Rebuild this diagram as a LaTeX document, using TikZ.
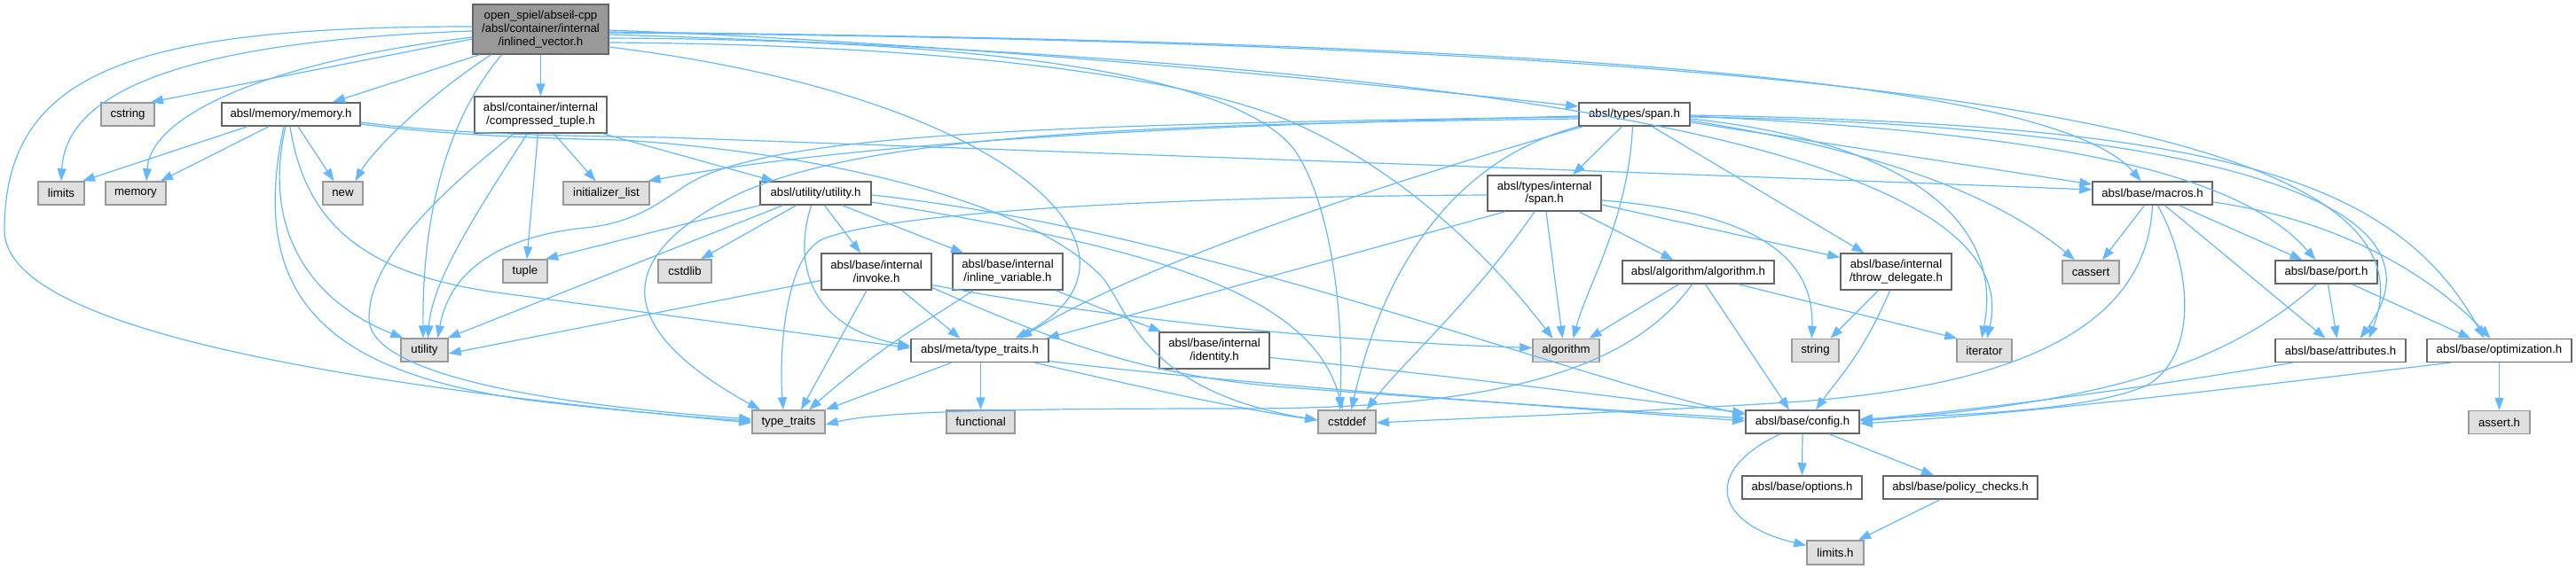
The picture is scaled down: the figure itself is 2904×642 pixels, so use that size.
\documentclass[tikz,border=0pt]{standalone}
\usepackage{fontspec}
\setmainfont{Liberation Sans}
\usetikzlibrary{arrows.meta}
\definecolor{edgec}{HTML}{63B8FF}
\definecolor{nodeb}{HTML}{666666}
\definecolor{sysb}{HTML}{999999}
\definecolor{sysf}{HTML}{E0E0E0}
\definecolor{mainf}{HTML}{999999}
\begin{document}
\begin{tikzpicture}[x=1pt,y=-1pt,
  nd/.style={draw=nodeb, fill=white, line width=1.5pt, inner sep=0pt, align=center, minimum height=26pt,
    font=\fontsize{13.2pt}{14.7pt}\selectfont},
  sys/.style={nd, draw=sysb, fill=sysf},
  mn/.style={nd, fill=mainf},
  edg/.style={draw=edgec, line width=1.2pt, -{Triangle[length=14pt,width=10pt]}}]
\path[use as bounding box] (0,0) rectangle (2904,642);
% ---------- nodes ----------
\node[mn, minimum width=153pt, minimum height=56pt] (main) at (609.5,33) {open\_spiel/abseil-cpp\\/absl/container/internal\\/inlined\_vector.h};
\node[sys, minimum width=60pt] (cstring) at (144,129) {cstring};
\node[nd, minimum width=156pt] (memoryh) at (328,129) {absl/memory/memory.h};
\node[nd, minimum width=149pt, minimum height=41pt] (ctuple) at (609.5,129.5) {absl/container/internal\\/compressed\_tuple.h};
\node[sys, minimum width=52pt] (limits) at (69,218) {limits};
\node[sys, minimum width=68pt] (memory) at (153,218) {memory};
\node[sys, minimum width=45pt] (new) at (386.5,218) {new};
\node[sys, minimum width=97pt] (initlist) at (683.5,218) {initializer\_list};
\node[nd, minimum width=125pt] (utilityh) at (919.5,218) {absl/utility/utility.h};
\node[sys, minimum width=50pt] (tuple) at (592,306) {tuple};
\node[sys, minimum width=60pt] (cstdlib) at (772,306) {cstdlib};
\node[nd, minimum width=124pt, minimum height=41pt] (invoke) at (988,306.5) {absl/base/internal\\/invoke.h};
\node[nd, minimum width=124pt, minimum height=41pt] (inlinevar) at (1136,306.5) {absl/base/internal\\/inline\_variable.h};
\node[sys, minimum width=53pt] (utility) at (478.5,395) {utility};
\node[nd, minimum width=155pt] (metatt) at (1104.5,395.5) {absl/meta/type\_traits.h};
\node[nd, minimum width=124pt, minimum height=41pt] (identity) at (1369,395.5) {absl/base/internal\\/identity.h};
\node[sys, minimum width=82pt] (typetraits) at (889,476) {type\_traits};
\node[sys, minimum width=77pt] (functional) at (1105.5,476) {functional};
\node[sys, minimum width=65pt] (cstddef) at (1518.5,476) {cstddef};
\node[nd, minimum width=125pt] (span) at (1842.5,129) {absl/types/span.h};
\node[nd, minimum width=128pt, minimum height=40pt] (ispan) at (1741,218) {absl/types/internal\\/span.h};
\node[nd, minimum width=171pt] (algoh) at (1914.5,307) {absl/algorithm/algorithm.h};
\node[sys, minimum width=75pt] (algorithm) at (1765.5,395.5) {algorithm};
\node[nd, minimum width=125pt, minimum height=41pt] (throwd) at (2137.5,306.5) {absl/base/internal\\/throw\_delegate.h};
\node[sys, minimum width=53pt] (string) at (2046.5,395.5) {string};
\node[sys, minimum width=62pt] (iterator) at (2237,395.5) {iterator};
\node[nd, minimum width=135pt] (macros) at (2426.5,218) {absl/base/macros.h};
\node[sys, minimum width=64pt] (cassert) at (2357,307) {cassert};
\node[nd, minimum width=115pt] (port) at (2622.5,307) {absl/base/port.h};
\node[nd, minimum width=147pt] (attributes) at (2638.5,395.5) {absl/base/attributes.h};
\node[nd, minimum width=163pt] (optim) at (2817.5,395.5) {absl/base/optimization.h};
\node[nd, minimum width=128pt] (config) at (2032,476) {absl/base/config.h};
\node[sys, minimum width=69pt] (asserth) at (2817.5,476.5) {assert.h};
\node[nd, minimum width=135pt] (options) at (2031.5,550) {absl/base/options.h};
\node[nd, minimum width=174pt] (policy) at (2210,550) {absl/base/policy\_checks.h};
\node[sys, minimum width=64pt, minimum height=27pt] (limitsh) at (2069,623.5) {limits.h};
% ---------- edges: main ----------
\draw[edg] ([yshift=-11pt]main.west) -- ([xshift=26pt]cstring.north);
\draw[edg] ([yshift=-2pt]main.west) .. controls (250,45) and (75,90) .. (limits.north);
\draw[edg] ([yshift=-9pt]main.west) .. controls (300,70) and (170,130) .. ([xshift=12pt]memory.north);
\draw[edg] ([yshift=3pt]main.west) .. controls (150,30) and (5,80) .. (5,260) .. controls (5,380) and (450,440) .. ([yshift=-1pt]typetraits.west);
\draw[edg] ([xshift=-56pt]main.south) .. controls (480,110) and (420,170) .. ([xshift=14pt]new.north);
\draw[edg] ([xshift=-69pt]main.south) -- ([xshift=47pt]memoryh.north);
\draw[edg] ([xshift=-44pt]main.south) .. controls (500,140) and (476,250) .. ([xshift=-1.5pt]utility.north);
\draw[edg] (main.south) -- (ctuple.north);
\draw[edg] ([yshift=-1pt]main.east) .. controls (1100,50) and (1500,90) .. ([yshift=9pt]span.west);
\draw[edg] ([yshift=-3pt]main.east) .. controls (1500,45) and (2300,70) .. ([xshift=-13pt]macros.north);
\draw[edg] ([yshift=-4pt]main.east) .. controls (2200,50) and (2760,150) .. ([xshift=32pt]attributes.north);
\draw[edg] ([yshift=-6pt]main.east) .. controls (1700,70) and (2290,170) .. ([xshift=3pt]iterator.north);
\draw[edg] ([yshift=-10pt]main.east) .. controls (1150,45) and (1400,90) .. (1460,170) .. controls (1500,230) and (1515,350) .. ([xshift=-8pt]cstddef.north);
\draw[edg] ([yshift=-15pt]main.east) .. controls (1000,50) and (1300,75) .. (1450,135) .. controls (1580,190) and (1680,290) .. ([xshift=-15pt]algorithm.north);
\draw[edg] ([yshift=-20pt]main.east) .. controls (1150,110) and (1320,290) .. ([xshift=40pt]metatt.north);
% ---------- memory.h ----------
\draw[edg] ([xshift=-49pt]memoryh.south) -- ([xshift=24pt]limits.north);
\draw[edg] ([xshift=-25pt]memoryh.south) -- ([xshift=28pt]memory.north);
\draw[edg] ([xshift=8pt]memoryh.south) -- ([xshift=-10pt]new.north);
\draw[edg] ([xshift=-6pt]memoryh.south) .. controls (295,260) and (350,340) .. ([xshift=3pt]utility.north west);
\draw[edg] ([xshift=-8pt]memoryh.south) .. controls (280,330) and (360,420) .. (600,452) .. controls (720,466) and (800,472) .. ([yshift=1pt]typetraits.west);
\draw[edg] ([xshift=-1pt]memoryh.south) .. controls (345,260) and (420,310) .. (560,330) -- ([yshift=3pt]metatt.west);
\draw[edg] ([yshift=-11pt]memoryh.east) .. controls (500,152) and (600,156) .. (700,158) .. controls (900,170) and (1150,220) .. (1240,310) .. controls (1270,340) and (1280,440) .. ([yshift=2pt]cstddef.west);
\draw[edg] ([yshift=-9pt]memoryh.east) .. controls (500,150) and (600,153) .. (750,155) .. controls (1300,175) and (2000,200) .. ([yshift=4pt]macros.west);
% ---------- compressed_tuple ----------
\draw[edg] ([xshift=15pt]ctuple.south) -- ([xshift=-12pt]initlist.north);
\draw[edg] ([xshift=-3pt]ctuple.south) -- ([xshift=2pt]tuple.north);
\draw[edg] ([xshift=-15pt]ctuple.south) .. controls (530,250) and (487,320) .. ([xshift=4pt]utility.north);
\draw[edg] ([xshift=-30pt]ctuple.south) .. controls (480,230) and (415,300) .. (416,360) .. controls (417,420) and (600,455) .. ([yshift=3pt]typetraits.west);
\draw[edg] ([xshift=70pt]ctuple.south) -- ([xshift=-47pt]utilityh.north);
% ---------- utility.h ----------
\draw[edg] (utilityh.south west) -- ([xshift=23pt]tuple.north);
\draw[edg] ([xshift=-37pt]utilityh.south) -- ([xshift=-1pt]utility.north east);
\draw[edg] ([xshift=-22pt]utilityh.south) -- ([xshift=18pt]cstdlib.north);
\draw[edg] ([xshift=-5pt]utilityh.south) .. controls (893,300) and (915,370) .. ([yshift=5pt]metatt.west);
\draw[edg] ([xshift=10pt]utilityh.south) -- ([xshift=-18pt]invoke.north);
\draw[edg] ([xshift=30pt]utilityh.south) -- ([xshift=-50pt]inlinevar.north);
\draw[edg] ([yshift=-2pt]utilityh.east) .. controls (1350,260) and (1750,420) .. ([yshift=8pt]config.west);
\draw[edg] ([yshift=-10pt]utilityh.east) .. controls (1300,280) and (1480,330) .. ([xshift=-5pt]cstddef.north);
% ---------- invoke.h ----------
\draw[edg] ([yshift=-10pt]invoke.west) -- ([yshift=-4pt]utility.east);
\draw[edg] ([xshift=-11pt]invoke.south) -- ([xshift=14pt]typetraits.north);
\draw[edg] ([xshift=29pt]invoke.south) -- ([xshift=-22pt]metatt.north);
\draw[edg] ([yshift=-15pt]invoke.east) .. controls (1250,360) and (1500,385) .. ([yshift=3pt]algorithm.west);
\draw[edg] ([yshift=-18pt]invoke.east) .. controls (1200,390) and (1300,425) .. (1450,437) .. controls (1650,452) and (1850,465) .. ([yshift=4pt]config.west);
% ---------- inline_variable.h ----------
\draw[edg] ([xshift=-39pt]inlinevar.south) .. controls (1050,360) and (1000,385) .. ([xshift=23pt]typetraits.north);
\draw[edg] ([xshift=54pt]inlinevar.south) -- ([xshift=-60pt]identity.north);
% ---------- identity.h ----------
\draw[edg] ([yshift=-8pt]identity.east) .. controls (1600,420) and (1800,445) .. ([yshift=10pt]config.west);
% ---------- meta/type_traits.h ----------
\draw[edg] ([xshift=1pt]metatt.south) -- (functional.north);
\draw[edg] ([xshift=-32pt]metatt.south) -- (typetraits.north east);
\draw[edg] ([xshift=62pt]metatt.south) .. controls (1300,440) and (1400,462) .. ([yshift=2pt]cstddef.west);
\draw[edg] ([yshift=-12pt]metatt.east) .. controls (1350,428) and (1650,452) .. ([yshift=1pt]config.west);
% ---------- span.h ----------
\draw[edg] ([yshift=-2pt]span.west) .. controls (1400,140) and (1000,155) .. ([xshift=47pt]initlist.north);
\draw[edg] ([yshift=-3pt]span.west) .. controls (1200,140) and (900,150) .. (790,200) .. controls (755,216) and (730,250) .. (660,257) .. controls (590,264) and (510,290) .. ([xshift=15pt]utility.north);
\draw[edg] ([yshift=-5pt]span.west) .. controls (1300,140) and (980,150) .. (830,220) .. controls (690,290) and (690,370) .. ([xshift=-32pt]typetraits.north);
\draw[edg] (span.south west) .. controls (1640,180) and (1560,300) .. ([xshift=5pt]cstddef.north);
\draw[edg] ([xshift=-2pt]span.south) .. controls (1835,250) and (1790,320) .. ([xshift=8pt]algorithm.north);
\draw[edg] ([xshift=-14pt]span.south) -- ([xshift=32pt]ispan.north);
\draw[edg] ([xshift=20pt]span.south) -- ([xshift=-36pt]throwd.north);
\draw[edg] ([xshift=-58pt]span.south) .. controls (1600,195) and (1300,290) .. ([xshift=45pt]metatt.north);
\draw[edg] ([yshift=-5pt]span.east) .. controls (2150,160) and (2260,250) .. ([xshift=-3pt]iterator.north);
\draw[edg] ([yshift=-7pt]span.east) .. controls (2120,170) and (2250,220) .. ([xshift=-18pt]cassert.north);
\draw[edg] ([yshift=-9pt]span.east) -- ([yshift=10pt]macros.west);
\draw[edg] ([yshift=-2pt]span.east) .. controls (2300,150) and (2520,190) .. ([xshift=-12pt]port.north);
\draw[edg] ([yshift=-3pt]span.east) .. controls (2450,140) and (2780,220) .. ([xshift=22pt]attributes.north);
\draw[edg] ([yshift=-1pt]span.east) .. controls (2500,140) and (2700,200) .. ([xshift=-17pt]optim.north);
% ---------- types/internal/span.h ----------
\draw[edg] ([xshift=2pt]ispan.south) -- ([xshift=-4pt]algorithm.north);
\draw[edg] ([xshift=-11pt]ispan.south) .. controls (1660,340) and (1580,410) .. ([xshift=22pt]cstddef.north);
\draw[edg] ([yshift=-2pt]ispan.west) .. controls (1300,222) and (1000,240) .. (927,270) .. controls (885,290) and (878,400) .. ([xshift=-6pt]typetraits.north);
\draw[edg] ([xshift=39pt]ispan.south) -- ([xshift=-28pt]algoh.north);
\draw[edg] ([yshift=-13pt]ispan.east) -- ([yshift=16pt]throwd.west);
\draw[edg] ([yshift=-8pt]ispan.east) .. controls (1980,240) and (2045,290) .. ([xshift=-4pt]string.north);
\draw[edg] ([xshift=-44pt]ispan.south) -- ([xshift=-3pt]metatt.north east);
% ---------- algorithm.h ----------
\draw[edg] ([xshift=-22pt]algoh.south) -- ([xshift=26pt]algorithm.north);
\draw[edg] ([xshift=45pt]algoh.south) -- ([xshift=1pt]iterator.north west);
\draw[edg] ([xshift=8pt]algoh.south) -- ([xshift=-15pt]config.north);
\draw[edg] ([xshift=-7pt]algoh.south) .. controls (1830,430) and (1650,461) .. (1400,461) .. controls (1200,461) and (1000,462) .. ([yshift=-3pt]typetraits.east);
% ---------- throw_delegate.h ----------
\draw[edg] ([xshift=-20pt]throwd.south) -- ([xshift=17pt]string.north);
\draw[edg] ([xshift=-7pt]throwd.south) .. controls (2100,400) and (2070,430) .. ([xshift=15pt]config.north);
% ---------- macros.h ----------
\draw[edg] ([xshift=-9pt]macros.south) -- ([xshift=13pt]cassert.north);
\draw[edg] (macros.south) .. controls (2420,380) and (2250,440) .. (2000,455) .. controls (1800,467) and (1650,472) .. ([yshift=-1pt]cstddef.east);
\draw[edg] ([xshift=6pt]macros.south) .. controls (2470,300) and (2480,400) .. (2420,435) .. controls (2350,465) and (2200,468) .. ([yshift=3pt]config.east);
\draw[edg] ([xshift=14pt]macros.south) -- ([xshift=-17pt]attributes.north);
\draw[edg] ([xshift=30pt]macros.south) -- ([xshift=-27pt]port.north);
\draw[edg] ([yshift=-10pt]macros.east) .. controls (2650,250) and (2750,320) .. ([xshift=-10pt]optim.north);
% ---------- port.h ----------
\draw[edg] ([xshift=2pt]port.south) -- ([xshift=-4pt]attributes.north);
\draw[edg] ([xshift=29pt]port.south) -- ([xshift=-32pt]optim.north);
\draw[edg] ([xshift=-11pt]port.south) .. controls (2500,420) and (2350,455) .. ([yshift=1pt]config.east);
% ---------- attributes / optimization ----------
\draw[edg] ([xshift=-54pt]attributes.south) .. controls (2400,440) and (2250,460) .. ([yshift=2pt]config.east);
\draw[edg] (optim.south) -- (asserth.north);
\draw[edg] ([xshift=-55pt]optim.south) .. controls (2500,440) and (2300,465) .. ([yshift=-2pt]config.east);
% ---------- config.h ----------
\draw[edg] (config.south) -- (options.north);
\draw[edg] ([xshift=30pt]config.south) -- ([xshift=-30pt]policy.north);
\draw[edg] ([xshift=-25pt]config.south) .. controls (1920,530) and (1930,590) .. ([yshift=8pt]limitsh.west);
\draw[edg] ([xshift=-23pt]policy.south) -- ([xshift=26pt]limitsh.north);
\end{tikzpicture}
\end{document}
